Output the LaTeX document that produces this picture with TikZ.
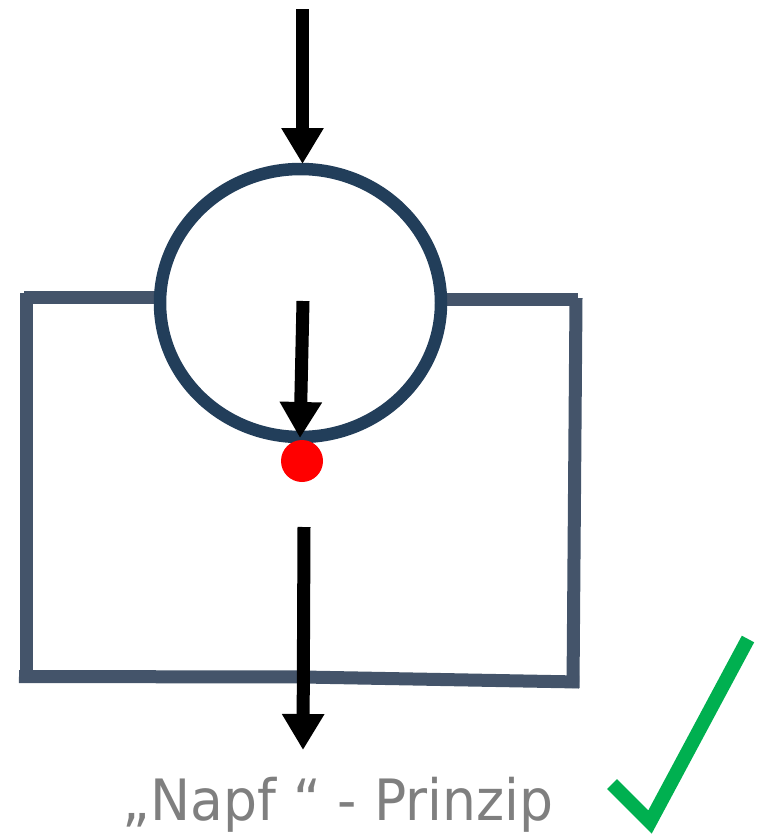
\documentclass[tikz,border=0pt]{standalone}
\usepackage{fontspec}
\setmainfont{DejaVu Sans}
\usetikzlibrary{arrows.meta,shapes.geometric}
\definecolor{ringcol}{RGB}{34,62,90}
\definecolor{framecol}{RGB}{68,84,106}
\definecolor{txtgray}{RGB}{127,127,127}
\definecolor{checkgreen}{RGB}{0,176,80}
\tikzset{
  flowarrow/.style={line width=13pt, draw=black, -{Triangle[width=40pt,length=36pt]}},
  framepart/.style={line width=13pt, draw=framecol},
  ring/.style={line width=12.5pt, draw=ringcol},
}
\begin{document}
\begin{tikzpicture}[x=1pt,y=-1pt]
\useasboundingbox (0,0) rectangle (765,835);
% coordinates
\coordinate (topStart) at (302.5,9);
\coordinate (topEnd) at (302.5,164);
\coordinate (inStart) at (303,301);
\coordinate (inEnd) at (300,438);
\coordinate (lowStart) at (304,527);
\coordinate (lowEnd) at (303,750);
% frame
\coordinate (fl1) at (24,297.5);
\coordinate (fl2) at (158,297.5);
\coordinate (fv1) at (26,293);
\coordinate (fv2) at (26,678);
\coordinate (fr1) at (444,299.5);
\coordinate (fr2) at (578,299.5);
\coordinate (fw1) at (576,298);
\coordinate (fw2) at (573,688);
\coordinate (fb1) at (19,676.5);
\coordinate (fb2) at (303,677);
\coordinate (fb3) at (579,682);
\draw[framepart] (fl1) -- (fl2);
\draw[framepart] (fv1) -- (fv2);
\draw[framepart] (fr1) -- (fr2);
\draw[framepart] (fw1) -- (fw2);
\draw[framepart] (fb1) -- (fb2) -- (fb3);
% ring
\node[ring, ellipse, draw, minimum width=281pt, minimum height=268pt, inner sep=0pt, outer sep=0pt] (ringnode) at (300.5,303) {};
% red dot
\node[circle, fill=red, minimum size=42pt, inner sep=0pt] (dot) at (302,461) {};
% arrows
\draw[flowarrow] (topStart) -- (topEnd);
\draw[flowarrow] (inStart) -- (inEnd);
\draw[flowarrow] (lowStart) -- (lowEnd);
% label
\node[anchor=base, inner sep=0pt, text=txtgray, xscale=0.94, font=\fontsize{57pt}{60pt}\selectfont] (label) at (338,820) {„Napf “ - Prinzip};
% check mark
\coordinate (ck1) at (612,784);
\coordinate (ck2) at (650,822);
\coordinate (ck3) at (748,639);
\draw[line width=14pt, draw=checkgreen] (ck1) -- (ck2) -- (ck3);
\end{tikzpicture}
\end{document}
